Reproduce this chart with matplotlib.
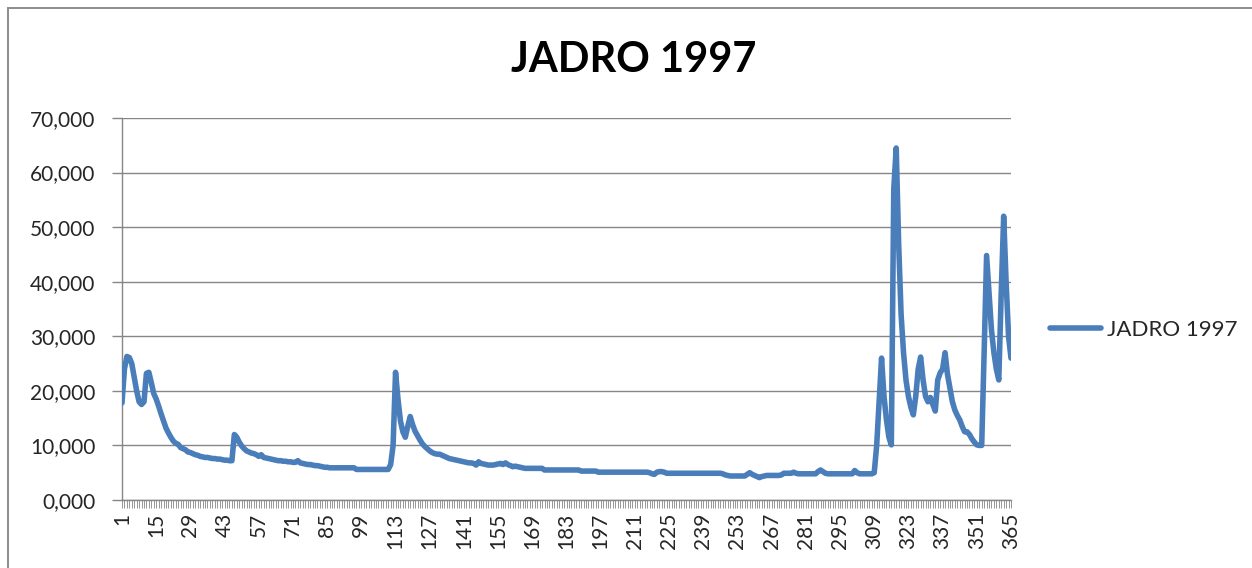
import numpy as np
import matplotlib
matplotlib.use("Agg")
import matplotlib.pyplot as plt
import matplotlib.patches as patches
from matplotlib.ticker import FuncFormatter, FixedLocator

plt.rcParams['font.family'] = ['Lato', 'DejaVu Sans']

# daily values, one row = 10 days
flow = [
    17.8, 24.0, 26.3, 26.1, 25.0, 22.5, 20.0, 18.0, 17.5, 18.0,   # 1-10
    23.2, 23.4, 21.5, 19.5, 18.5, 17.2, 15.8, 14.5, 13.2, 12.3,   # 11-20
    11.5, 10.8, 10.4, 10.2, 9.6, 9.4, 9.2, 8.8, 8.7, 8.5,         # 21-30
    8.3, 8.2, 8.0, 7.9, 7.8, 7.8, 7.7, 7.6, 7.6, 7.5,             # 31-40
    7.5, 7.4, 7.3, 7.3, 7.2, 7.2, 12.0, 11.5, 10.6, 9.9,          # 41-50
    9.4, 9.0, 8.8, 8.6, 8.5, 8.3, 8.0, 8.3, 7.8, 7.7,             # 51-60
    7.6, 7.5, 7.4, 7.3, 7.2, 7.2, 7.1, 7.1, 7.0, 7.0,             # 61-70
    6.9, 6.9, 7.2, 6.8, 6.7, 6.6, 6.5, 6.5, 6.4, 6.3,             # 71-80
    6.3, 6.2, 6.1, 6.0, 6.0, 5.9, 5.9, 5.9, 5.9, 5.9,             # 81-90
    5.9, 5.9, 5.9, 5.9, 5.9, 5.9, 5.6, 5.6, 5.6, 5.6,             # 91-100
    5.6, 5.6, 5.6, 5.6, 5.6, 5.6, 5.6, 5.6, 5.6, 5.6,             # 101-110
    6.5, 10.0, 23.4, 18.5, 14.5, 12.5, 11.5, 13.5, 15.3, 13.8,    # 111-120
    12.6, 11.8, 11.0, 10.3, 9.8, 9.4, 9.0, 8.7, 8.5, 8.4,         # 121-130
    8.4, 8.2, 8.0, 7.8, 7.6, 7.5, 7.4, 7.3, 7.2, 7.1,             # 131-140
    7.0, 6.9, 6.8, 6.8, 6.7, 6.4, 7.0, 6.7, 6.6, 6.5,             # 141-150
    6.4, 6.4, 6.4, 6.5, 6.6, 6.7, 6.5, 6.8, 6.5, 6.3,             # 151-160
    6.1, 6.2, 6.1, 6.0, 5.9, 5.8, 5.8, 5.8, 5.8, 5.8,             # 161-170
    5.8, 5.8, 5.8, 5.5, 5.5, 5.5, 5.5, 5.5, 5.5, 5.5,             # 171-180
    5.5, 5.5, 5.5, 5.5, 5.5, 5.5, 5.5, 5.5, 5.3, 5.3,             # 181-190
    5.3, 5.3, 5.3, 5.3, 5.3, 5.1, 5.1, 5.1, 5.1, 5.1,             # 191-200
    5.1, 5.1, 5.1, 5.1, 5.1, 5.1, 5.1, 5.1, 5.1, 5.1,             # 201-210
    5.1, 5.1, 5.1, 5.1, 5.1, 5.1, 5.0, 4.8, 4.7, 5.1,             # 211-220
    5.2, 5.2, 5.1, 4.9, 4.9, 4.9, 4.9, 4.9, 4.9, 4.9,             # 221-230
    4.9, 4.9, 4.9, 4.9, 4.9, 4.9, 4.9, 4.9, 4.9, 4.9,             # 231-240
    4.9, 4.9, 4.9, 4.9, 4.9, 4.9, 4.8, 4.6, 4.5, 4.4,             # 241-250
    4.4, 4.4, 4.4, 4.4, 4.4, 4.4, 4.7, 5.0, 4.7, 4.5,             # 251-260
    4.3, 4.1, 4.3, 4.4, 4.5, 4.5, 4.5, 4.5, 4.5, 4.5,             # 261-270
    4.6, 4.9, 4.9, 4.9, 4.9, 5.1, 4.9, 4.8, 4.8, 4.8,             # 271-280
    4.8, 4.8, 4.8, 4.8, 4.8, 5.2, 5.5, 5.2, 4.9, 4.8,             # 281-290
    4.8, 4.8, 4.8, 4.8, 4.8, 4.8, 4.8, 4.8, 4.8, 4.8,             # 291-300
    5.4, 5.0, 4.8, 4.8, 4.8, 4.8, 4.8, 4.8, 5.0, 10.0,            # 301-310
    18.0, 26.0, 19.0, 14.7, 11.5, 10.1, 57.0, 64.5, 47.0, 34.0,   # 311-320
    27.0, 22.0, 19.0, 17.0, 15.6, 19.0, 24.0, 26.2, 22.0, 19.0,   # 321-330
    18.0, 18.8, 17.5, 16.3, 22.0, 23.3, 24.0, 27.0, 23.0, 20.5,   # 331-340
    18.0, 16.5, 15.5, 14.7, 13.5, 12.5, 12.5, 12.0, 11.2, 10.6,   # 341-350
    10.1, 10.0, 10.0, 27.0, 44.8, 38.0, 31.2, 27.0, 24.0, 22.0,   # 351-360
    38.0, 52.0, 40.0, 30.0, 26.0,                                 # 361-365
]
days = list(range(1, len(flow) + 1))
series_name = 'JADRO 1997'
title = 'JADRO 1997'
y_ticks = [0, 10, 20, 30, 40, 50, 60, 70]
x_labels = list(range(1, 366, 14))

W, H = 1252, 568
fig = plt.figure(figsize=(W / 100, H / 100), dpi=100)
fig.patch.set_facecolor('white')

left, right, top, bottom = 122, 1011, 118, 500
ax = fig.add_axes([left / W, 1 - bottom / H, (right - left) / W, (bottom - top) / H])

line_color = '#4A7EBB'
grid_color = '#868686'
text_color = '#262626'

ax.plot(days, flow, color=line_color, lw=4.0, solid_joinstyle='round',
        solid_capstyle='round', label=series_name, zorder=3)

ax.set_xlim(1, 365)
ax.set_ylim(0, 70)
ax.set_yticks(y_ticks)
ax.yaxis.set_major_formatter(FuncFormatter(lambda v, p: f'{v:.3f}'.replace('.', ',')))
ax.grid(axis='y', color=grid_color, lw=1.0)
ax.set_axisbelow(True)

ax.xaxis.set_major_locator(FixedLocator(x_labels))
ax.xaxis.set_minor_locator(FixedLocator(days))
ax.set_xticklabels([str(v) for v in x_labels], rotation=90)

for s in ['top', 'right']:
    ax.spines[s].set_visible(False)
for s in ['left', 'bottom']:
    ax.spines[s].set_color(grid_color)
    ax.spines[s].set_linewidth(1.0)

ax.tick_params(axis='y', length=7, width=1, color=grid_color, pad=12,
               labelsize=15, labelcolor=text_color)
ax.tick_params(axis='x', which='both', length=6, width=0.6, color=grid_color,
               pad=3, labelsize=15, labelcolor=text_color)

fig.text(634 / W, 1 - 60 / H, title, ha='center', va='center',
         fontsize=30, fontweight='bold', color='black')

ax.legend(loc='center left', bbox_to_anchor=(1050 / W, 1 - 330 / H),
          bbox_transform=fig.transFigure, frameon=False, fontsize=16,
          handlelength=2.3, handletextpad=0.25, borderpad=0, borderaxespad=0,
          labelcolor=text_color)

# chart area border
fig.add_artist(patches.Rectangle((8 / W, -0.1), 1.2, 1.1 - 8 / H,
                                 transform=fig.transFigure, fill=False,
                                 edgecolor='#8c8c8c', lw=1.4))

fig.savefig('out.png', dpi=100, facecolor='white')
plt.close(fig)
